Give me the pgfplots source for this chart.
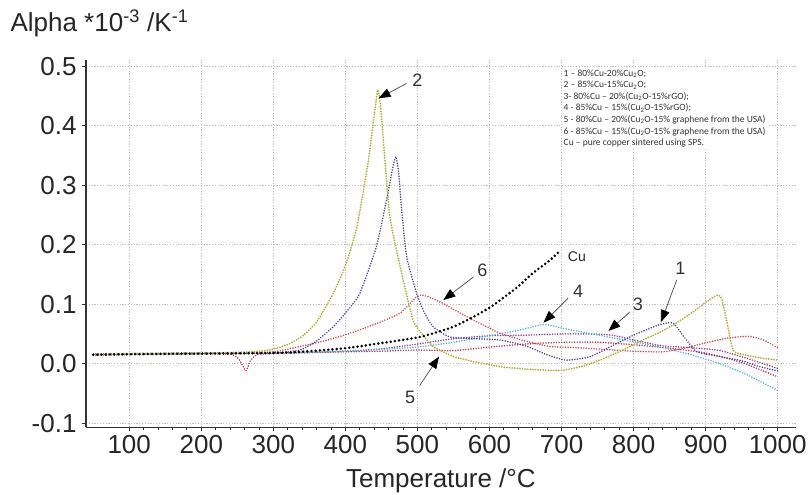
\documentclass[border=0pt]{standalone}
\usepackage{fontspec}
\setmainfont{Liberation Sans}
\newfontfamily\legfont{Carlito}
\usepackage{pgfplots}
\pgfplotsset{compat=1.18}
\usetikzlibrary{arrows.meta}

\definecolor{cYel}{RGB}{176,176,52}
\definecolor{cBlu}{RGB}{62,62,165}
\definecolor{cRed}{RGB}{212,70,70}
\definecolor{cCya}{RGB}{70,180,220}
\definecolor{cPur}{RGB}{140,60,145}
\definecolor{cCri}{RGB}{195,50,80}
\definecolor{gridc}{RGB}{200,184,184}

\pgfplotstableread{
T a
50 0.015
100 0.017
150 0.017
200 0.018
250 0.019
290 0.022
320 0.032
340 0.046
360 0.07
383 0.118
400 0.165
416 0.23
432 0.342
441 0.426
445 0.46
449 0.43
455 0.34
462 0.245
476 0.163
494 0.073
510 0.045
522 0.029
550 0.012
580 0.003
615 -0.005
650 -0.009
684 -0.011
702 -0.011
730 -0.004
753 0.006
780 0.02
813 0.040
835 0.052
855 0.065
880 0.085
900 0.103
911 0.112
917 0.115
922 0.11
929 0.073
938 0.023
950 0.016
975 0.01
1000 0.006
}\curveB

\pgfplotstableread{
T a
50 0.016
100 0.017
200 0.018
250 0.018
300 0.018
337 0.023
360 0.038
383 0.062
400 0.085
420 0.118
443 0.197
459 0.286
465 0.325
470 0.348
474 0.32
478 0.26
485 0.18
499 0.118
510 0.085
522 0.062
545 0.045
580 0.042
614 0.04
650 0.03
680 0.015
707 0.006
740 0.012
770 0.03
800 0.048
837 0.066
855 0.068
870 0.045
888 0.02
920 0.012
950 0.005
975 -0.005
1000 -0.012
}\curveA

\pgfplotstableread{
T a
50 0.016
150 0.017
250 0.018
300 0.02
337 0.029
370 0.038
406 0.051
440 0.066
476 0.085
499 0.113
508 0.115
520 0.11
536 0.101
555 0.088
578 0.073
600 0.06
615 0.051
650 0.038
684 0.029
720 0.027
760 0.024
800 0.021
840 0.02
870 0.026
900 0.035
930 0.043
960 0.046
980 0.04
1000 0.027
}\curveF

\pgfplotstableread{
T a
50 0.015
150 0.016
250 0.017
300 0.018
350 0.019
400 0.021
450 0.024
500 0.028
550 0.036
600 0.047
640 0.056
675 0.066
700 0.06
730 0.053
760 0.046
800 0.037
840 0.027
880 0.015
920 0.0
960 -0.02
1000 -0.045
}\curveD

\pgfplotstableread{
T a
50 0.015
150 0.016
250 0.017
300 0.018
400 0.021
450 0.025
500 0.033
550 0.042
600 0.047
650 0.048
700 0.05
740 0.05
770 0.048
800 0.04
840 0.03
880 0.027
920 0.022
960 0.008
1000 -0.008
}\curveC

\pgfplotstableread{
T a
50 0.014
100 0.016
200 0.017
240 0.016
252 0.008
262 -0.012
268 0.005
280 0.016
330 0.018
400 0.02
450 0.021
500 0.023
550 0.022
600 0.028
650 0.033
700 0.036
750 0.036
800 0.032
850 0.026
900 0.018
950 0.002
1000 -0.022
}\curveE

\pgfplotstableread{
T a
50 0.015
100 0.016
200 0.017
300 0.018
337 0.02
400 0.026
452 0.035
500 0.044
522 0.051
550 0.062
578 0.079
600 0.094
615 0.107
640 0.13
660 0.152
684 0.174
699 0.191
}\curveCu

\begin{document}
\begin{tikzpicture}
\useasboundingbox (0,0) rectangle (810bp,495bp);
\begin{axis}[at={(86bp,67.6bp)},anchor=south west,scale only axis,
  width=709.7bp,height=367.2bp,clip=false,
  xmin=40,xmax=1025,ymin=-0.107,ymax=0.51,
  axis lines=left,axis line style={-,line width=1.3bp,black!80},
  tick align=outside,major tick length=4bp,minor tick length=3bp,
  tick style={black!80,line width=0.8bp},
  xtick={100,200,...,1000},minor x tick num=4,
  xticklabels={100,200,300,400,500,600,700,800,900,1000},
  ytick={-0.1,0,0.1,0.2,0.3,0.4,0.5},
  yticklabels={-0.1,0.0,0.1,0.2,0.3,0.4,0.5},
  ticklabel style={font=\fontsize{26bp}{30bp}\selectfont,text=black!85},
  yticklabel style={xshift=-2bp},
  grid=major,major grid style={gridc,line width=0.9bp,dash pattern=on 1.2bp off 1.6bp},
  xlabel={Temperature /°C},
  xlabel style={font=\fontsize{26bp}{30bp}\selectfont,text=black!85,
    at={(axis description cs:0.5,0)},anchor=base,yshift=-60bp},
  every axis plot/.append style={line width=1.7bp,line cap=round,dash pattern=on 0bp off 2.6bp,
    smooth,tension=0.35}]
\addplot[cCri] table[x=T,y=a]{\curveE};
\addplot[cPur] table[x=T,y=a]{\curveC};
\addplot[cCya] table[x=T,y=a]{\curveD};
\addplot[cRed] table[x=T,y=a]{\curveF};
\addplot[cBlu] table[x=T,y=a]{\curveA};
\addplot[cYel,line width=2bp] table[x=T,y=a]{\curveB};
\addplot[black,line width=2.8bp,dash pattern=on 0bp off 4.2bp] table[x=T,y=a]{\curveCu};
\node[anchor=north west,fill=white,inner sep=2bp,align=left,text=black!80,
  font=\legfont\fontsize{9.5bp}{11.6bp}\selectfont] at (axis cs:700,0.498)
  {1 – 80\%Cu-20\%Cu\textsubscript{2}O;\\
   2 – 85\%Cu-15\%Cu\textsubscript{2}O;\\
   3- 80\%Cu – 20\%(Cu\textsubscript{2}O-15\%rGO);\\
   4 - 85\%Cu – 15\%(Cu\textsubscript{2}O-15\%rGO);\\
   5 - 80\%Cu – 20\%(Cu\textsubscript{2}O-15\% graphene from the USA)\\
   6 - 85\%Cu – 15\%(Cu\textsubscript{2}O-15\% graphene from the USA)\\
   Cu – pure copper sintered using SPS.};
\tikzset{ann/.style={gray!70!black,line width=0.8bp,-{Triangle[length=12bp,width=9bp,color=black]}},
  lab/.style={font=\fontsize{18bp}{20bp}\selectfont,text=black!80}}
\draw[ann] (axis cs:485,0.471) -- (axis cs:446,0.446);
\node[lab] at (axis cs:500,0.477) {2};
\draw[ann] (axis cs:578,0.146) -- (axis cs:536,0.107);
\node[lab] at (axis cs:590,0.157) {6};
\draw[ann] (axis cs:709,0.110) -- (axis cs:675,0.069);
\node[lab] at (axis cs:723,0.121) {4};
\draw[ann] (axis cs:795,0.087) -- (axis cs:765,0.055);
\node[lab] at (axis cs:806,0.099) {3};
\draw[ann] (axis cs:860,0.141) -- (axis cs:838,0.070);
\node[lab] at (axis cs:865,0.160) {1};
\draw[ann] (axis cs:503,-0.037) -- (axis cs:530,0.012);
\node[lab] at (axis cs:490,-0.056) {5};
\node[anchor=west,font=\fontsize{14bp}{16bp}\selectfont,text=black!85] at (axis cs:704,0.18) {Cu};
\end{axis}
\node[anchor=base west,font=\fontsize{26bp}{30bp}\selectfont,text=black!85] at (7bp,463bp)
  {Alpha *10\textsuperscript{-3} /K\textsuperscript{-1}};
\end{tikzpicture}
\end{document}
